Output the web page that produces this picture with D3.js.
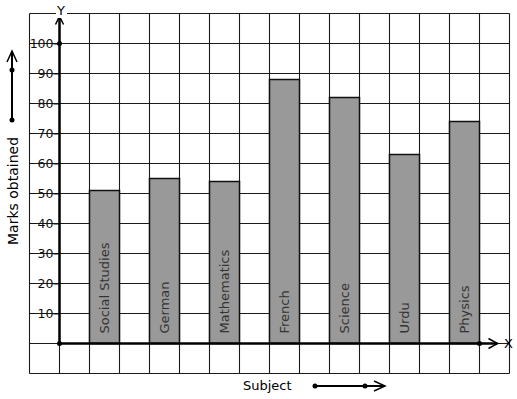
<!DOCTYPE html>
<html>
<head>
<meta charset="utf-8">
<script src="https://cdn.jsdelivr.net/npm/d3@7"></script>
<style>
body { margin: 0; background: #fff; }
svg { font-family: "DejaVu Sans", sans-serif; }
</style>
</head>
<body>
<svg id="chart"></svg>
<script>
var subjects = ["Social Studies", "German", "Mathematics", "French", "Science", "Urdu", "Physics"]
var marks = [51, 55, 54, 88, 82, 63, 74]
var yTicks = [10, 20, 30, 40, 50, 60, 70, 80, 90, 100]

var screen = { width: 517, height: 399 }
var svg = d3.select("#chart")
  .attr("width", screen.width)
  .attr("height", screen.height)

// grid runs one cell past the axes on every side
var xScale = d3.scaleLinear().domain([-1, 15]).range([29.5, 509.5])
var yScale = d3.scaleLinear().domain([-10, 110]).range([373.5, 13.5])

var grid = svg.append("g")
grid.selectAll(".vline")
  .data(d3.range(-1, 16))
  .enter()
  .append("line")
  .attr("x1", function(d){ return xScale(d) })
  .attr("x2", function(d){ return xScale(d) })
  .attr("y1", yScale(110))
  .attr("y2", yScale(-10))
  .attr("stroke", "#1a1a1a")
  .attr("stroke-width", 1.1)
grid.selectAll(".hline")
  .data(d3.range(-10, 120, 10))
  .enter()
  .append("line")
  .attr("y1", function(d){ return yScale(d) })
  .attr("y2", function(d){ return yScale(d) })
  .attr("x1", xScale(-1))
  .attr("x2", xScale(15))
  .attr("stroke", "#1a1a1a")
  .attr("stroke-width", 1.1)

// bars, each two cells to the right of the previous one
svg.selectAll("rect")
  .data(marks)
  .enter()
  .append("rect")
  .attr("x", function(d, i){ return xScale(1 + i*2) })
  .attr("y", function(d){ return yScale(d) })
  .attr("width", xScale(1) - xScale(0))
  .attr("height", function(d){ return yScale(0) - yScale(d) })
  .attr("fill", "#999999")
  .attr("stroke", "#111")
  .attr("stroke-width", 1.5)

svg.selectAll(".barlabel")
  .data(subjects)
  .enter()
  .append("text")
  .attr("transform", function(d, i){
    return "translate(" + (xScale(1.5 + i*2) + 4.5) + "," + (yScale(0) - 10) + ") rotate(-90)"
  })
  .attr("font-size", "13px")
  .attr("fill", "#333")
  .text(function(d){ return d })

// y axis with its tick labels
var yAxis = d3.axisLeft(yScale).tickValues(yTicks).tickSize(6).tickPadding(0)
var yg = svg.append("g")
  .attr("transform", "translate(" + xScale(0) + ",0)")
  .call(yAxis)
yg.select(".domain").remove()
yg.selectAll("text").attr("font-size", "12.5px").attr("fill", "#111").attr("font-family", "DejaVu Sans")
yg.selectAll("line").attr("stroke", "#111")
svg.selectAll(".ldash")
  .data(yTicks)
  .enter()
  .append("line")
  .attr("x1", xScale(-1))
  .attr("x2", xScale(-1) + 5)
  .attr("y1", function(d){ return yScale(d) })
  .attr("y2", function(d){ return yScale(d) })
  .attr("stroke", "#111")

// thick axes with arrows
svg.append("line")
  .attr("x1", xScale(0)).attr("x2", xScale(0))
  .attr("y1", yScale(0)).attr("y2", yScale(109))
  .attr("stroke", "#000").attr("stroke-width", 2.5)
svg.append("path")
  .attr("d", "M" + (xScale(0)-4) + "," + (yScale(109)+8) + "L" + xScale(0) + "," + yScale(109) + "L" + (xScale(0)+4) + "," + (yScale(109)+8))
  .attr("fill", "none").attr("stroke", "#000").attr("stroke-width", 1.5)
svg.append("line")
  .attr("x1", xScale(0)).attr("x2", xScale(14.6))
  .attr("y1", yScale(0)).attr("y2", yScale(0))
  .attr("stroke", "#000").attr("stroke-width", 2.5)
svg.append("path")
  .attr("d", "M" + (xScale(14.6)-9) + "," + (yScale(0)-5) + "L" + xScale(14.6) + "," + yScale(0) + "L" + (xScale(14.6)-9) + "," + (yScale(0)+5))
  .attr("fill", "none").attr("stroke", "#000").attr("stroke-width", 1.5)
var dots = [[0, 0], [0, 100], [14, 0]]
svg.selectAll(".dot")
  .data(dots)
  .enter()
  .append("circle")
  .attr("cx", function(d){ return xScale(d[0]) })
  .attr("cy", function(d){ return yScale(d[1]) })
  .attr("r", 2.5)
  .attr("fill", "#000")

// white box behind the Y so the grid top breaks there
svg.append("rect").attr("x", 56).attr("y", 6).attr("width", 11).attr("height", 12).attr("fill", "#fff")
svg.append("text").attr("x", 61).attr("y", 15).attr("text-anchor", "middle")
  .attr("font-size", "13px").text("Y")
svg.append("text").attr("x", 504).attr("y", 347.5)
  .attr("font-size", "13px").text("X")

// axis titles with their little arrows
svg.append("text")
  .attr("transform", "translate(17.5,191) rotate(-90)")
  .attr("text-anchor", "middle")
  .attr("font-size", "14px")
  .text("Marks obtained")
svg.append("line").attr("x1", 12).attr("x2", 12).attr("y1", 120).attr("y2", 52)
  .attr("stroke", "#000").attr("stroke-width", 2)
svg.append("path").attr("d", "M7,62L12,51L17,62")
  .attr("fill", "none").attr("stroke", "#000").attr("stroke-width", 1.5)
svg.selectAll(".ydot").data([120, 70]).enter().append("circle")
  .attr("cx", 12).attr("cy", function(d){ return d }).attr("r", 2.5).attr("fill", "#000")

svg.append("text").attr("x", 243).attr("y", 390)
  .attr("font-size", "13px").text("Subject")
svg.append("line").attr("x1", 315).attr("x2", 385).attr("y1", 386).attr("y2", 386)
  .attr("stroke", "#000").attr("stroke-width", 2)
svg.append("path").attr("d", "M374,381L385,386L374,391")
  .attr("fill", "none").attr("stroke", "#000").attr("stroke-width", 1.5)
svg.selectAll(".xdot").data([315, 365]).enter().append("circle")
  .attr("cx", function(d){ return d }).attr("cy", 386).attr("r", 2.5).attr("fill", "#000")
</script>
</body>
</html>
